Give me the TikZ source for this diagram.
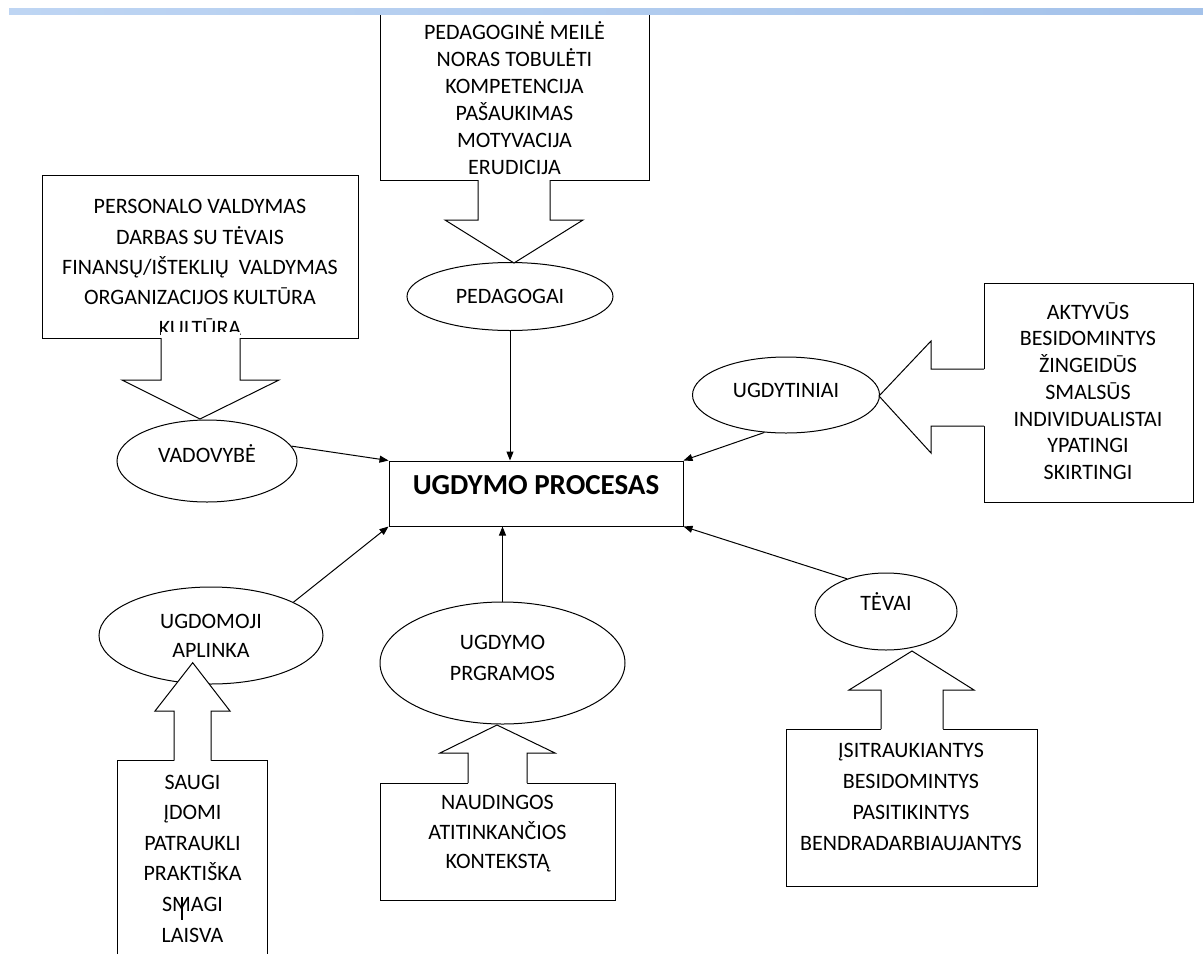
\documentclass[tikz,border=0pt]{standalone}
\usepackage{fontspec}
\setmainfont{Carlito}
\usetikzlibrary{arrows.meta,shapes.geometric}
\definecolor{barleft}{RGB}{190,213,243}
\definecolor{barright}{RGB}{164,194,234}

\begin{document}
\begin{tikzpicture}[x=1pt,y=-1pt,
        oval/.style={ellipse, draw},
        listtext/.style={align=center, font=\fontsize{22}{#1}\selectfont},
        >={Triangle[length=9pt,width=7pt]}, line width=1pt]
        \tikzstyle{every node}=[font=\fontsize{22}{29}\selectfont, inner sep=0pt]
            \useasboundingbox (0,0) rectangle (1203,954);

            \draw (380,8) rectangle (649,180);
            \draw (42,175) rectangle (358,338);
            \draw (984,283) rectangle (1193,502);
            \draw (117,954) -- (117,760.7) -- (267,760.7) -- (267,954);
            \draw (380.7,783) rectangle (615,900);
            \draw (786,729) rectangle (1037,886);
            \shade[left color=barleft, right color=barright] (9,8) rectangle (1203,14.7);

            \node[listtext=27] (pedlist) at (514.5,98.5) {PEDAGOGINĖ MEILĖ\\NORAS TOBULĖTI\\KOMPETENCIJA\\PAŠAUKIMAS\\MOTYVACIJA\\ERUDICIJA};
            \node[listtext=30.3] (vadlist) at (200,267.5) {PERSONALO VALDYMAS\\DARBAS SU TĖVAIS\\FINANSŲ/IŠTEKLIŲ\ \ VALDYMAS\\ORGANIZACIJOS KULTŪRA\\KULTŪRA};
            \node[listtext=26.7] (ugdlist) at (1088,391) {AKTYVŪS\\BESIDOMINTYS\\ŽINGEIDŪS\\SMALSŪS\\INDIVIDUALISTAI\\YPATINGI\\SKIRTINGI};
            \node[listtext=30.6] (aplist) at (192.5,858.5) {SAUGI\\ĮDOMI\\PATRAUKLI\\PRAKTIŠKA\\SMAGI\\LAISVA};
            \node[listtext=29.5] (proglist) at (497.5,834) {NAUDINGOS\\ATITINKANČIOS\\KONTEKSTĄ};
            \node[listtext=31] (tevlist) at (911,796.5) {ĮSITRAUKIANTYS\\BESIDOMINTYS\\PASITIKINTYS\\BENDRADARBIAUJANTYS};

            \node[draw, minimum width=294pt, minimum height=65pt, text depth=17pt, font=\bfseries\fontsize{29}{34}\selectfont] (proc) at (536,493.5) {UGDYMO PROCESAS};
            \node[oval, minimum width=206pt, minimum height=68pt] (ped) at (510,296.5) {PEDAGOGAI};
            \node[oval, minimum width=180pt, minimum height=82pt, text depth=14pt] (vad) at (207,461) {VADOVYBĖ};
            \node[oval, minimum width=187pt, minimum height=76pt, text depth=9pt] (ugd) at (786,395) {UGDYTINIAI};
            \node[oval, minimum width=224pt, minimum height=97pt, align=center] (apl) at (211,635.5) {UGDOMOJI\\APLINKA};
            \node[oval, minimum width=245pt, minimum height=122pt, align=center, text depth=10pt, font=\fontsize{22}{31}\selectfont] (prog) at (502.5,663) {UGDYMO\\PRGRAMOS};
            \node[oval, minimum width=142pt, minimum height=77pt, text depth=19pt] (tev) at (886,611.5) {TĖVAI};

            \fill[white] (478,176) -- (478,220) -- (445,220) -- (514,263) -- (583,220) -- (550,220) -- (550,176) -- cycle;
            \draw (478,180) -- (478,220) -- (445,220) -- (514,263) -- (583,220) -- (550,220) -- (550,180);
            \fill[white] (161,332) -- (161,380) -- (122,380) -- (200,419) -- (279,380) -- (240,380) -- (240,332) -- cycle;
            \draw (161,338) -- (161,380) -- (122,380) -- (200,419) -- (279,380) -- (240,380) -- (240,338);
            \fill[white] (988,369) -- (931,369) -- (931,341) -- (879,396) -- (931,453) -- (931,426) -- (988,426) -- cycle;
            \draw (984,369) -- (931,369) -- (931,341) -- (879,396) -- (931,453) -- (931,426) -- (984,426);
            \fill[white] (174,765) -- (174,711) -- (155,711) -- (192.7,662.7) -- (230,711) -- (211,711) -- (211,765) -- cycle;
            \draw (174,760.7) -- (174,711) -- (155,711) -- (192.7,662.7) -- (230,711) -- (211,711) -- (211,760.7);
            \fill[white] (468,787) -- (468,753) -- (440,753) -- (497,725) -- (555,753) -- (527,753) -- (527,787) -- cycle;
            \draw (468,783) -- (468,753) -- (440,753) -- (497,725) -- (555,753) -- (527,753) -- (527,783);
            \fill[white] (881,733) -- (881,690) -- (849,690) -- (912,651) -- (974,690) -- (943,690) -- (943,733) -- cycle;
            \draw (881,729) -- (881,690) -- (849,690) -- (912,651) -- (974,690) -- (943,690) -- (943,729);

            \draw[line width=2pt] (182,897) -- (182,920);

            \draw[->] (ped.south) -- (ped.south |- proc.north);
            \draw[->] (vad.10) -- (proc.north west);
            \draw[->] (ugd.240) -- (proc.north east);
            \draw[->] (apl.22) -- (proc.south west);
            \draw[->] (prog.north) -- (prog.north |- proc.south);
            \draw[->] (tev.140) -- (proc.south east);
        \end{tikzpicture}
\end{document}
